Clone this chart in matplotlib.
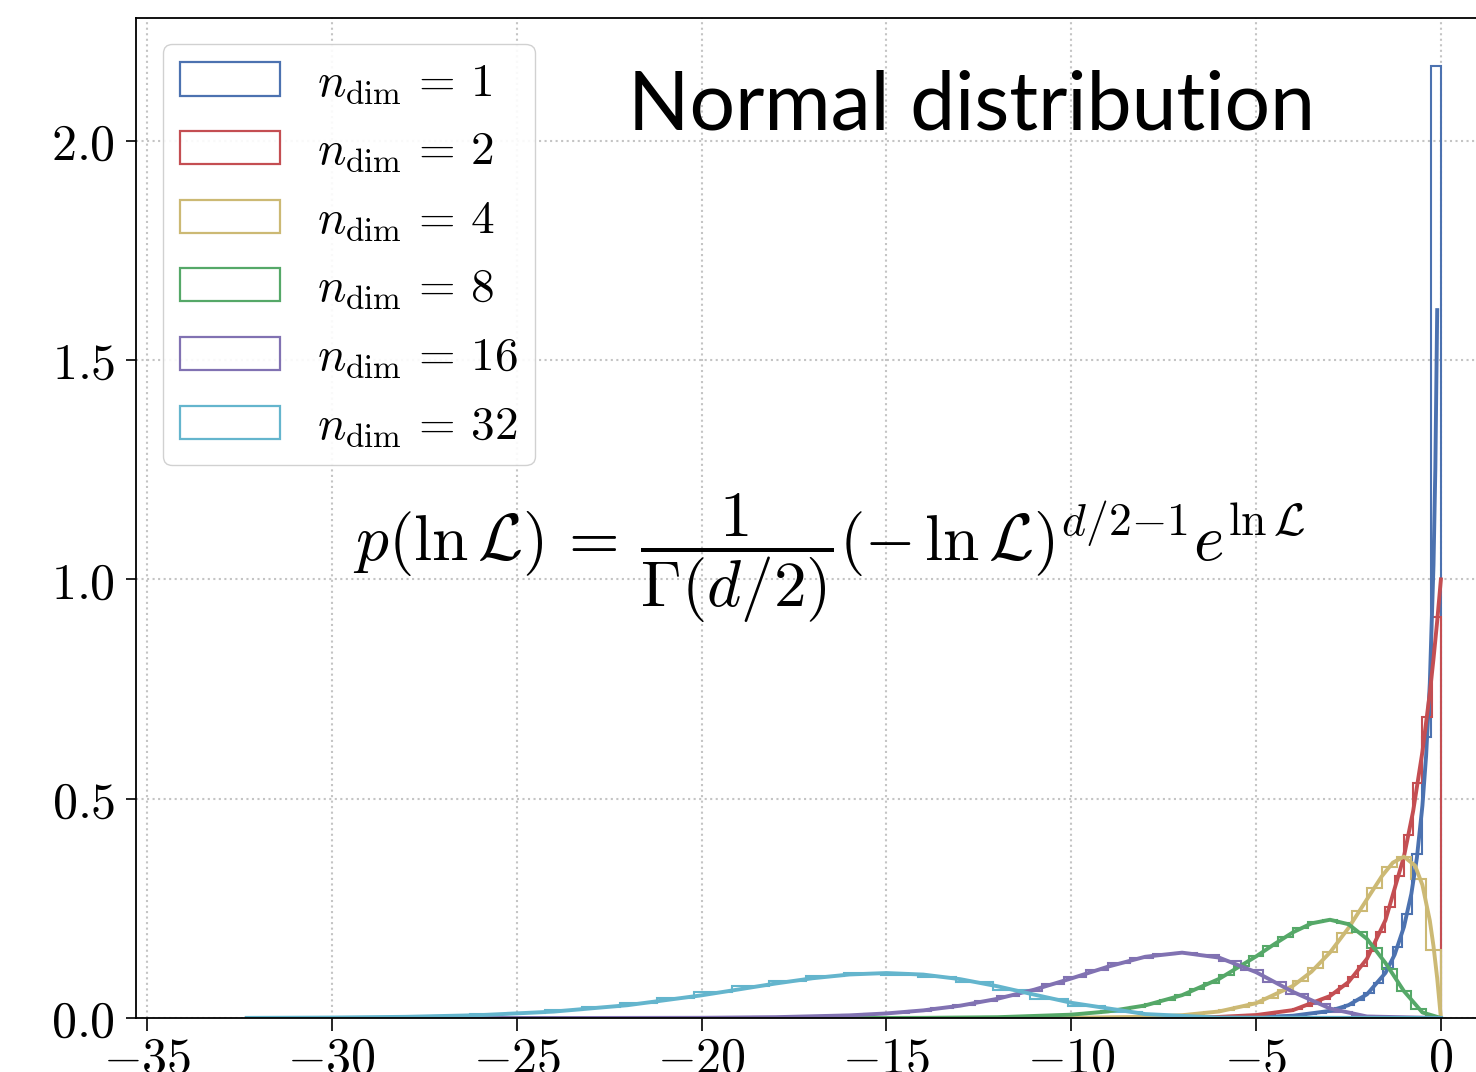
import numpy as np
import matplotlib
matplotlib.use('Agg')
import matplotlib.pyplot as plt
from matplotlib.patches import Rectangle

plt.rcParams['mathtext.fontset'] = 'cm'

dims = [1, 2, 4, 8, 16, 32]
colors = ['#4C72B0', '#C44E52', '#CCB974', '#55A868', '#8172B2', '#64B5CD']

# histogram bin widths, heights listed from the bin touching 0 outwards (in -lnL)
bin_widths = [0.26, 0.25, 0.4, 0.4, 0.6, 1.01]
hist_1 = [2.17, 0.64, 0.375, 0.238, 0.162, 0.113, 0.080, 0.0575, 0.0416, 0.0304,
          0.0223, 0.0164, 0.0121, 0.0090, 0.0067, 0.0050, 0.0037, 0.0028, 0.0021,
          0.0016, 0.0012, 0.0009, 0.0007]
hist_2 = [0.915, 0.6873, 0.5353, 0.4169, 0.3247, 0.2528, 0.1969, 0.1534, 0.1194,
          0.0930, 0.0724, 0.0564, 0.0439, 0.0342, 0.0266, 0.0208, 0.0162, 0.0126,
          0.0098, 0.0076, 0.0059, 0.0046, 0.0036, 0.0028, 0.0022, 0.0017, 0.0013, 0.0010]
hist_4 = [0.155, 0.318, 0.3679, 0.3452, 0.2975, 0.2438, 0.1931, 0.1494, 0.1135,
          0.0851, 0.0630, 0.0462, 0.0337, 0.0243, 0.0176, 0.0126, 0.0090, 0.0064,
          0.0045, 0.0032, 0.0023, 0.0016, 0.0011]
hist_8 = [0.0011, 0.0198, 0.0613, 0.1128, 0.1607, 0.1966, 0.2176, 0.2240, 0.2186,
          0.2046, 0.1852, 0.1631, 0.1404, 0.1185, 0.0985, 0.0806, 0.0652, 0.0521,
          0.0413, 0.0324, 0.0253, 0.0195, 0.0150, 0.0114, 0.0087, 0.0066, 0.0049,
          0.0037, 0.0027, 0.0020, 0.0015, 0.0011, 0.0008]
hist_16 = [0.0, 0.0, 0.0008, 0.0044, 0.0140, 0.0312, 0.0551, 0.0824, 0.1086, 0.1298,
           0.1435, 0.1490, 0.1464, 0.1378, 0.1247, 0.1092, 0.0928, 0.0769, 0.0623,
           0.0494, 0.0385, 0.0295, 0.0222, 0.0165, 0.0122, 0.0088, 0.0063, 0.0045,
           0.0032, 0.0022, 0.0015, 0.0010, 0.0007]
hist_32 = [0.0, 0.0, 0.0, 0.0, 0.0, 0.0004, 0.0018, 0.0057, 0.0136, 0.0265, 0.0438,
           0.0630, 0.0810, 0.0945, 0.0985, 0.1030, 0.0956, 0.0849, 0.0719, 0.0583,
           0.0453, 0.0341, 0.0248, 0.0175, 0.0120, 0.0081, 0.0053, 0.0034, 0.0021,
           0.0013, 0.0008, 0.0005]

# smooth curves: -lnL values and density
curve_u_1 = [0.1, 0.15, 0.2, 0.3, 0.4, 0.5, 0.65, 0.8, 1.0, 1.25, 1.5, 2, 2.5, 3, 4, 5, 6, 8, 12, 32.3]
curve_p_1 = [1.614, 1.254, 1.033, 0.763, 0.598, 0.484, 0.365, 0.283, 0.2076, 0.1446,
             0.1028, 0.054, 0.0293, 0.0162, 0.0052, 0.0017, 0.0006, 0.0001, 0.0, 0.0]
curve_u_2 = [0, 0.1, 0.2, 0.3, 0.5, 0.75, 1, 1.5, 2, 2.5, 3, 4, 5, 6, 8, 12, 32.3]
curve_p_2 = [1.0, 0.905, 0.819, 0.741, 0.607, 0.472, 0.368, 0.223, 0.135, 0.082,
             0.050, 0.018, 0.0067, 0.0025, 0.0003, 0.0, 0.0]
curve_u_4 = [0, 0.1, 0.2, 0.3, 0.5, 0.7, 1, 1.3, 1.6, 2, 2.5, 3, 3.5, 4, 5, 6, 7, 8, 10, 12, 32.3]
curve_p_4 = [0.0, 0.0905, 0.1637, 0.2222, 0.3033, 0.3476, 0.3679, 0.3542, 0.3230,
             0.2707, 0.2052, 0.1494, 0.1057, 0.0733, 0.0337, 0.0149, 0.0064, 0.0027,
             0.0005, 0.0001, 0.0]
curve_u_8 = [0, 0.5, 1, 1.5, 2, 2.5, 3, 3.5, 4, 4.5, 5, 6, 7, 8, 9, 10, 12, 14, 16, 32.3]
curve_p_8 = [0.0, 0.0126, 0.0613, 0.1255, 0.1804, 0.2138, 0.2240, 0.2158, 0.1954,
             0.1687, 0.1404, 0.0892, 0.0521, 0.0286, 0.0150, 0.0076, 0.0018, 0.0004,
             0.0001, 0.0]
curve_u_16 = [0, 2, 3, 4, 5, 6, 7, 8, 9, 10, 11, 12, 13, 14, 15, 16, 18, 20, 24, 32.3]
curve_p_16 = [0.0, 0.0034, 0.0216, 0.0595, 0.1045, 0.1377, 0.1490, 0.1396, 0.1172,
              0.0901, 0.0646, 0.0437, 0.0281, 0.0174, 0.0104, 0.0060, 0.0019, 0.0005,
              0.0, 0.0]
curve_u_32 = [0, 6, 8, 10, 11, 12, 13, 14, 15, 16, 17, 18, 19, 20, 22, 24, 26, 28, 30, 32, 32.3]
curve_p_32 = [0.0, 0.0009, 0.0090, 0.0347, 0.0533, 0.0724, 0.0885, 0.0990, 0.1025,
              0.0992, 0.0906, 0.0786, 0.0651, 0.0517, 0.0292, 0.0146, 0.0065, 0.0027,
              0.0010, 0.0004, 0.0003]

hists = [hist_1, hist_2, hist_4, hist_8, hist_16, hist_32]
curves = [(curve_u_1, curve_p_1), (curve_u_2, curve_p_2), (curve_u_4, curve_p_4),
          (curve_u_8, curve_p_8), (curve_u_16, curve_p_16), (curve_u_32, curve_p_32)]

fig = plt.figure(figsize=(14.76, 10.72), dpi=100)
ax = fig.add_axes([136/1476, 54/1072, 1367/1476, 1000/1072])

for h, w, (cu, cp), c in zip(hists, bin_widths, curves, colors):
    h = np.array(h)
    edges = -w*np.arange(len(h)+1)
    ax.stairs(h[::-1], edges[::-1], color=c, lw=1.5)
    ax.plot(-np.array(cu), cp, color=c, lw=2.8)

ax.set_xlim(-35.3, 1.68)
ax.set_ylim(0, 2.28)
xt = [-35, -30, -25, -20, -15, -10, -5, 0]
yt = [0.0, 0.5, 1.0, 1.5, 2.0]
ax.set_xticks(xt)
ax.set_xticklabels([r'$%d$' % v for v in xt])
ax.set_yticks(yt)
ax.set_yticklabels([r'$%.1f$' % v for v in yt])
ax.tick_params(labelsize=36, direction='out', length=7, width=1.2, pad=8)
ax.tick_params(axis='x', length=9, pad=3)
ax.grid(True, ls=':', color='#c4c4c4', lw=1.5)
ax.set_axisbelow(True)
for s in ['left', 'bottom', 'top']:
    ax.spines[s].set_linewidth(1.3)
ax.spines['right'].set_visible(False)

handles = [Rectangle((0, 0), 1, 1, facecolor='none', edgecolor=c, lw=1.6) for c in colors]
labels = [r'$n_\mathrm{dim}\,=\,%d$' % d for d in dims]
leg = ax.legend(handles, labels, loc='upper left', bbox_to_anchor=(163/1476, 1-44/1072),
                bbox_transform=fig.transFigure, borderaxespad=0, fontsize=34,
                handlelength=2.12, handleheight=0.70, labelspacing=0.5,
                handletextpad=0.8, borderpad=0.35, fancybox=True, framealpha=0.9,
                edgecolor='#cccccc')

fig.text(972/1476, 1-130/1072, 'Normal distribution', family='Lato', fontsize=58,
         ha='center', va='baseline')
fig.text(829/1476, 1-561/1072,
         r'$p(\ln\mathcal{L})\,=\,\dfrac{1}{\Gamma(d/2)}(-\,\ln\mathcal{L})^{d/2{-}1}e^{\ln\mathcal{L}}$',
         fontsize=47, ha='center', va='baseline')

fig.savefig('out.png', dpi=100)
